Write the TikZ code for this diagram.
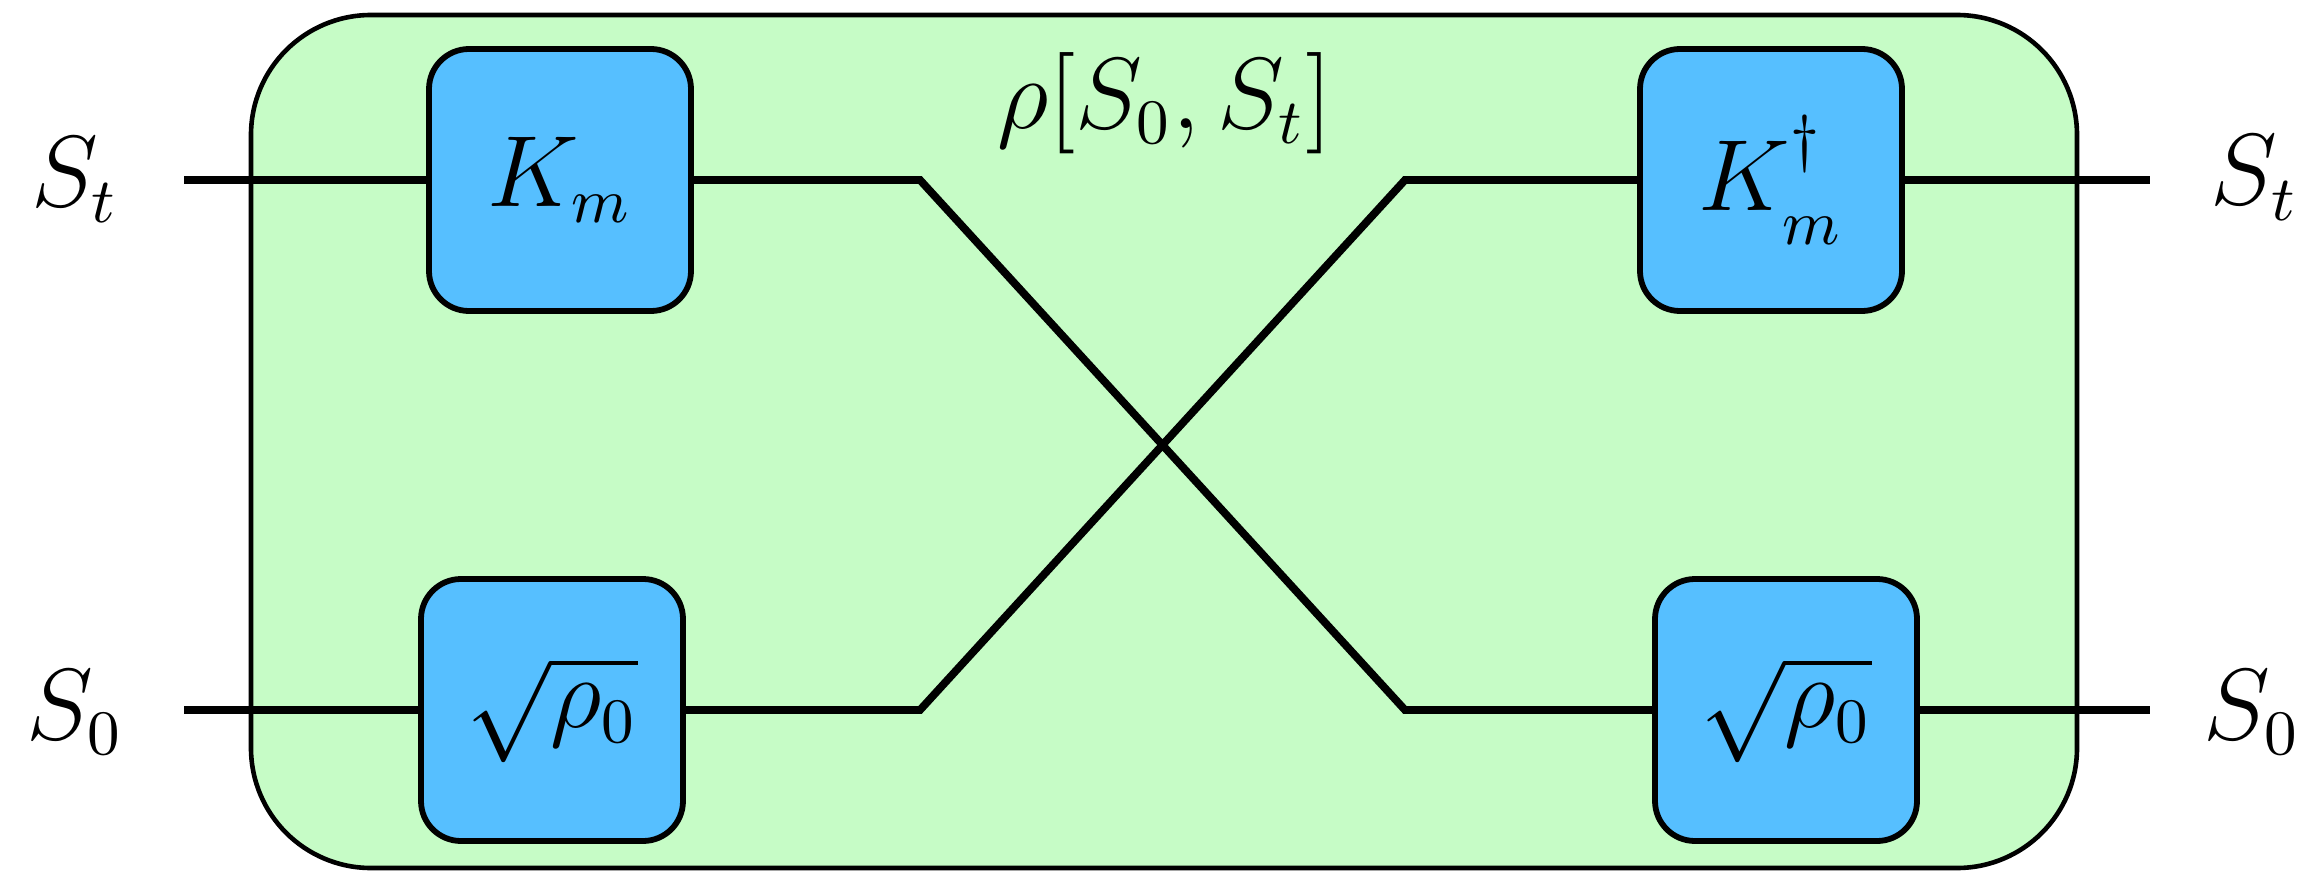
\documentclass[tikz,border=0pt]{standalone}
\definecolor{mintgreen}{HTML}{C6FCC6}
\definecolor{gateblue}{HTML}{56BFFF}
\tikzset{every node/.style={font=\fontsize{13.5}{16}\selectfont},
  region/.style={draw=black,fill=mintgreen,line width=0.23mm,rounded corners=6mm},
  gate/.style={draw=black,fill=gateblue,line width=0.29mm,rounded corners=2mm,
    minimum size=13.1mm,inner sep=0pt},
  wire/.style={draw=black,line width=0.39mm}}

\begin{document}
\begin{tikzpicture}[x=1mm,y=-1mm]
  \path[use as bounding box] (0,0) rectangle (115.2,43.6);

  % Region
  \draw[region] (12.55,0.75) rectangle (103.85,43.4);
  \node (rholbl) at (58.25,5.15) {$\rho[S_0,S_t]$};

  % Gates
  \node[gate] (km)  at (28,9)      {$K_m$};
  \node[gate] (sql) at (27.6,35.5) {$\sqrt{\rho_0}$};
  \node[gate] (kd)  at (88.55,9)
    {$K^{\raisebox{0.7mm}{$\scriptstyle\dagger$}}_{\raisebox{-0.45mm}{$\scriptstyle m$}}$};
  \node[gate] (sqr) at (89.3,35.5) {$\sqrt{\rho_0}$};

  % Outer labels
  \node (stl) at (3.75,9)    {$S_t$};
  \node (s0l) at (3.75,35.6) {$S_0$};
  \node (str) at (112.7,8.9) {$S_t$};
  \node (s0r) at (112.6,35.6) {$S_0$};

  % Wire ends and crossing corners
  \coordinate (inT)  at (9.2,9);
  \coordinate (inB)  at (9.2,35.5);
  \coordinate (xTL)  at (46,9);
  \coordinate (xBL)  at (46,35.5);
  \coordinate (xTR)  at (70.25,9);
  \coordinate (xBR)  at (70.25,35.5);
  \coordinate (outT) at (107.5,9);
  \coordinate (outB) at (107.5,35.5);

  % Wires
  \draw[wire] (inT) -- (km);
  \draw[wire] (inB) -- (sql);
  \draw[wire] (km) -- (xTL) -- (xBR) -- (sqr);
  \draw[wire] (sql) -- (xBL) -- (xTR) -- (kd);
  \draw[wire] (kd) -- (outT);
  \draw[wire] (sqr) -- (outB);
\end{tikzpicture}
\end{document}
